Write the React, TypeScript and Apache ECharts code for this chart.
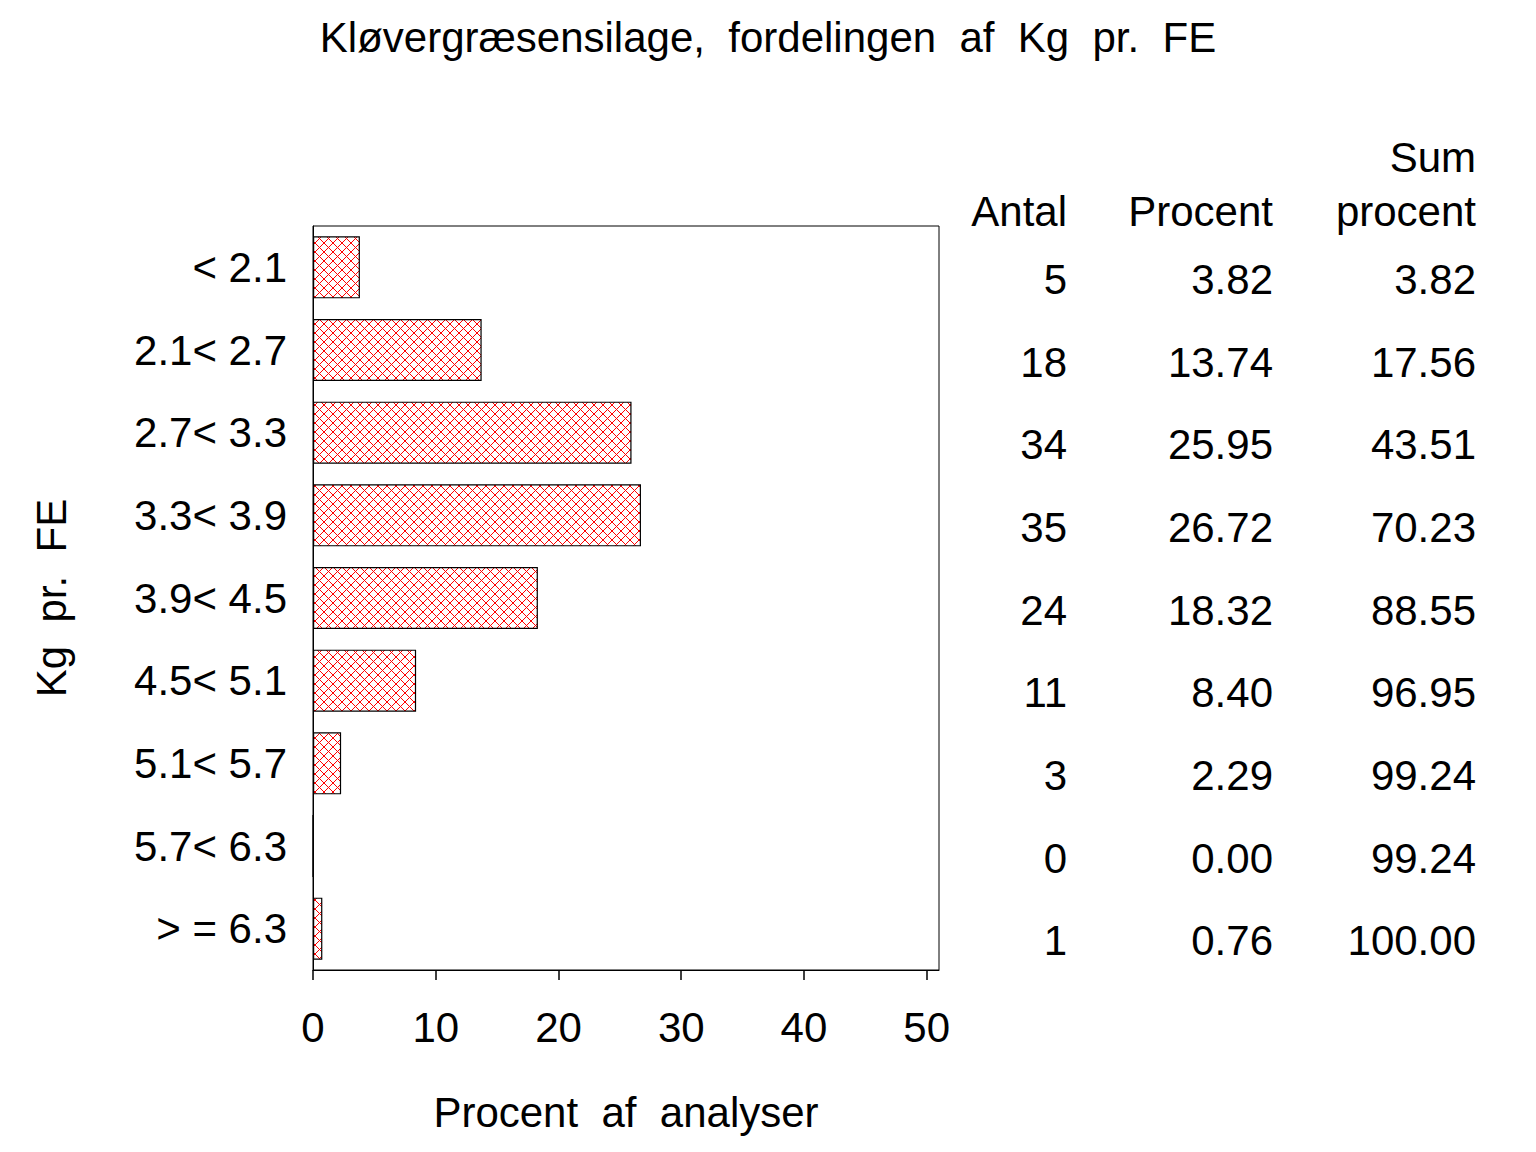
import React, { useEffect, useRef } from "react";
import * as echarts from "echarts";

const titleText = "Kløvergræsensilage,  fordelingen  af  Kg  pr.  FE";
const categories = ["< 2.1", "2.1< 2.7", "2.7< 3.3", "3.3< 3.9", "3.9< 4.5", "4.5< 5.1", "5.1< 5.7", "5.7< 6.3", "> = 6.3"];
const antal = [5, 18, 34, 35, 24, 11, 3, 0, 1];
const procent = [3.82, 13.74, 25.95, 26.72, 18.32, 8.4, 2.29, 0.0, 0.76];
const sumProcent = [3.82, 17.56, 43.51, 70.23, 88.55, 96.95, 99.24, 99.24, 100.0];
const xTicks = [0, 10, 20, 30, 40, 50];
const xName = "Procent  af  analyser";
const yName = "Kg  pr.  FE";
const headers = { antal: "Antal", procent: "Procent", sum1: "Sum", sum2: "procent" };

const FONT = "Liberation Sans";
const FS = 42;

export default function App() {
  const ref = useRef<HTMLDivElement>(null);
  useEffect(() => {
    if (!ref.current) return;
    const chart = echarts.init(ref.current, undefined, { renderer: "svg" });

    const tile = document.createElement("canvas");
    tile.width = 9;
    tile.height = 9;
    const ctx = tile.getContext("2d")!;
    ctx.fillStyle = "#ffffff";
    ctx.fillRect(0, 0, 9, 9);
    ctx.fillStyle = "#ff0000";
    for (let i = 0; i < 9; i++) {
      ctx.fillRect(i, i, 1, 1);
      ctx.fillRect(8 - i, i, 1, 1);
    }
    const pattern: any = { image: tile, repeat: "repeat", imageWidth: 9, imageHeight: 9 };

    const tableAxis = (data: string[], margin: number) => ({
      type: "category",
      data,
      inverse: true,
      position: "right",
      gridIndex: 0,
      axisLine: { show: false },
      axisTick: { show: false },
      splitLine: { show: false },
      axisLabel: {
        margin,
        align: "right",
        verticalAlign: "top",
        lineHeight: 24,
        fontSize: FS,
        color: "#000",
        fontFamily: FONT,
      },
    });

    const headerText = (text: string, x: number, y: number) => ({
      type: "text",
      x,
      y,
      style: { text, fontSize: FS, fontFamily: FONT, fill: "#000", align: "right", verticalAlign: "middle" },
    });

    chart.setOption({
      animation: false,
      backgroundColor: "#fff",
      textStyle: { fontFamily: FONT, color: "#000" },
      title: {
        text: titleText,
        left: "center",
        top: 11,
        textStyle: { fontSize: FS, fontWeight: "normal", color: "#000", fontFamily: FONT },
      },
      grid: {
        left: 313,
        top: 226,
        width: 626,
        height: 744,
        show: true,
        borderColor: "#000",
        borderWidth: 1,
        containLabel: false,
        outerBoundsMode: "none",
      },
      xAxis: {
        type: "value",
        min: 0,
        max: 51,
        name: xName,
        nameLocation: "middle",
        nameGap: 121,
        nameMoveOverlap: false,
        nameTextStyle: { fontSize: FS, color: "#000", fontFamily: FONT },
        axisLine: { show: true, lineStyle: { color: "#000", width: 1 } },
        axisTick: { show: true, length: 10, lineStyle: { color: "#000", width: 1.5 }, customValues: xTicks },
        axisLabel: { fontSize: FS, color: "#000", fontFamily: FONT, margin: 36, customValues: xTicks },
        splitLine: { show: false },
      },
      yAxis: [
        {
          type: "category",
          data: categories,
          inverse: true,
          name: yName,
          nameLocation: "middle",
          nameRotate: 90,
          nameGap: 241,
          nameMoveOverlap: false,
          nameTextStyle: { fontSize: FS, color: "#000", fontFamily: FONT },
          axisLine: { show: true, lineStyle: { color: "#000", width: 1 } },
          axisTick: { show: false },
          axisLabel: { fontSize: FS, color: "#000", fontFamily: FONT, margin: 26 },
          splitLine: { show: false },
        },
        tableAxis(antal.map((v) => String(v)), 128),
        tableAxis(procent.map((v) => v.toFixed(2)), 334),
        tableAxis(sumProcent.map((v) => v.toFixed(2)), 537),
      ],
      graphic: [
        headerText(headers.antal, 1067, 211),
        headerText(headers.procent, 1273, 211),
        headerText(headers.sum1, 1476, 157),
        headerText(headers.sum2, 1476, 211),
      ],
      series: [
        {
          type: "bar",
          data: procent,
          xAxisIndex: 0,
          yAxisIndex: 0,
          barCategoryGap: "25%",
          itemStyle: { color: pattern, borderColor: "#000", borderWidth: 1.2 },
        },
      ],
    });
    return () => chart.dispose();
  }, []);
  return <div ref={ref} style={{ position: "absolute", left: 0, top: 0, width: 1536, height: 1152 }} />;
}
